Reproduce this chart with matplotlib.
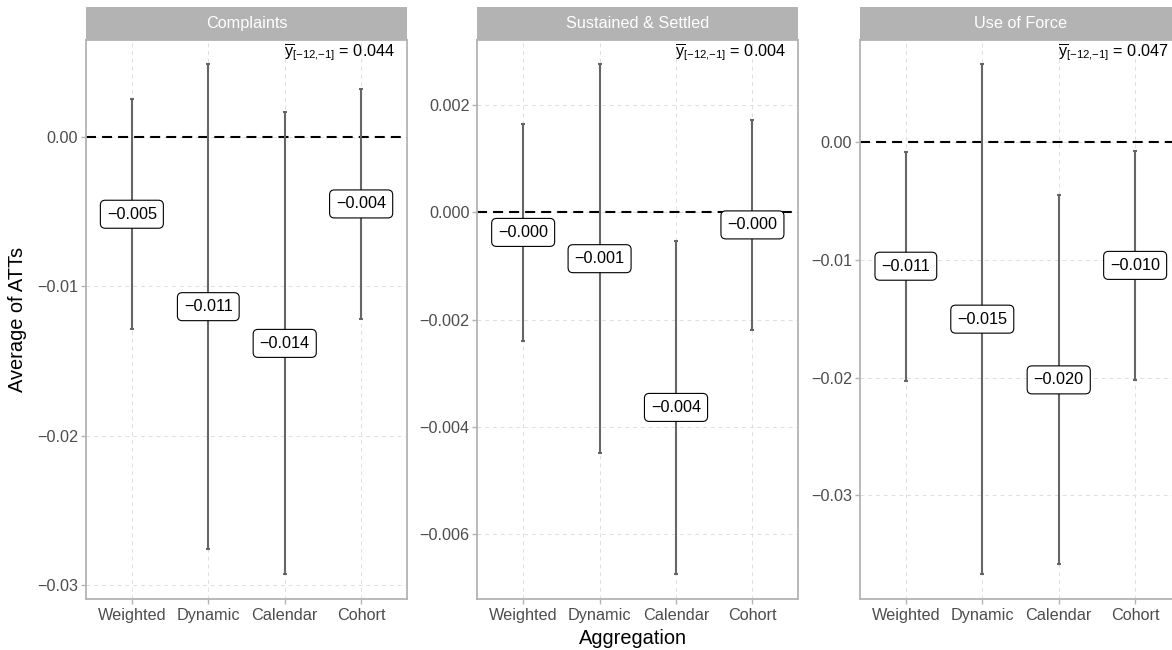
import matplotlib
matplotlib.use("Agg")
import matplotlib.pyplot as plt
from matplotlib.patches import Rectangle
from matplotlib.ticker import FixedLocator, FuncFormatter

plt.rcParams['font.family'] = ['Liberation Sans', 'DejaVu Sans']
plt.rcParams['mathtext.fontset'] = 'custom'
plt.rcParams['mathtext.rm'] = 'Liberation Sans'
plt.rcParams['mathtext.it'] = 'Liberation Sans:italic'
plt.rcParams['axes.unicode_minus'] = True

# ---- data ----
categories = ["Weighted", "Dynamic", "Calendar", "Cohort"]
panels = ["Complaints", "Sustained & Settled", "Use of Force"]
pre_means = [0.044, 0.004, 0.047]

complaints_est = [-0.00517, -0.01136, -0.01382, -0.00448]
complaints_lo = [-0.01286, -0.02759, -0.02929, -0.01219]
complaints_hi = [0.00252, 0.00487, 0.00165, 0.00324]

sustained_est = [-0.000375, -0.000865, -0.00364, -0.000235]
sustained_lo = [-0.00240, -0.00449, -0.00675, -0.00219]
sustained_hi = [0.00165, 0.00276, -0.000535, 0.00172]

force_est = [-0.01056, -0.01505, -0.02020, -0.01049]
force_lo = [-0.02027, -0.03669, -0.03584, -0.02021]
force_hi = [-0.00085, 0.00659, -0.00455, -0.00076]

ests = [complaints_est, sustained_est, force_est]
los = [complaints_lo, sustained_lo, force_lo]
his = [complaints_hi, sustained_hi, force_hi]

y_ticks = [[0.0, -0.01, -0.02, -0.03],
           [0.002, 0.0, -0.002, -0.004, -0.006],
           [0.0, -0.01, -0.02, -0.03]]
y_fmt = ["{:.2f}", "{:.3f}", "{:.2f}"]
y_lims = [(-0.03096, 0.0065), (-0.00722, 0.003215), (-0.03881, 0.008626)]

# ---- layout ----
W, H = 1172, 650
fig = plt.figure(figsize=(W / 100, H / 100), dpi=100)
top_px, bot_px = 40, 599.3
lefts_px = [86, 477.3, 860]
pw = 321

grey70 = '#B3B3B3'
tick_col = '#4D4D4D'

def fmt_minus(s):
    return s.replace('-', '\u2212')

for i in range(3):
    ax = fig.add_axes([lefts_px[i] / W, 1 - bot_px / H, pw / W, (bot_px - top_px) / H])
    x = list(range(1, len(categories) + 1))
    ax.set_xlim(0.4, 4.6)
    ax.set_ylim(*y_lims[i])

    ax.yaxis.set_major_locator(FixedLocator(y_ticks[i]))
    f = y_fmt[i]
    ax.yaxis.set_major_formatter(FuncFormatter(lambda v, p, f=f: fmt_minus(f.format(v + 0.0))))
    ax.set_xticks(x)
    ax.set_xticklabels(categories)

    for s in ax.spines.values():
        s.set_color(grey70)
        s.set_linewidth(1.3)
    ax.tick_params(axis='both', colors=grey70, labelcolor=tick_col, labelsize=11.7,
                   length=3.5, width=1.0)
    ax.tick_params(axis='y', pad=2)
    ax.tick_params(axis='x', pad=3)

    ax.grid(True, which='major', color='#DEDEDE', linestyle=(0, (4, 4)), linewidth=0.7)
    ax.set_axisbelow(True)

    ax.axhline(0, color='black', linewidth=1.5, linestyle=(0, (4.8, 2.9)), zorder=2)

    e = ests[i]
    yerr = [[e[k] - los[i][k] for k in range(4)], [his[i][k] - e[k] for k in range(4)]]
    ax.errorbar(x, e, yerr=yerr, fmt='none', ecolor='#666666', elinewidth=1.5,
                capsize=1.5, capthick=1.5, zorder=3)

    for k in range(4):
        ax.text(x[k], e[k], fmt_minus("{:.3f}".format(e[k])), ha='center', va='center',
                fontsize=11.7, color='black', zorder=5,
                bbox=dict(boxstyle='round,pad=0.4,rounding_size=0.3', fc='white',
                          ec='black', lw=0.8))

    ax.text(1 - 12 / pw, 1 - 12 / (bot_px - top_px),
            r"$\overline{\mathrm{y}}_{[{-}12{,}{-}1]}$" + " = {:.3f}".format(pre_means[i]),
            transform=ax.transAxes, ha='right', va='center', fontsize=11.7, color='black')

    # strip
    sh = 33 / (bot_px - top_px)
    ax.add_patch(Rectangle((0, 1), 1, sh, transform=ax.transAxes, facecolor=grey70,
                           edgecolor='none', clip_on=False, zorder=1))
    ax.text(0.5, 1 + sh / 2, panels[i], transform=ax.transAxes, ha='center', va='center',
            color='white', fontsize=11.7)

fig.text(18 / W, 1 - 319.5 / H, "Average of ATTs", rotation=90, ha='center', va='center',
         fontsize=14.4, color='black')
fig.text(633 / W, 1 - 638 / H, "Aggregation", ha='center', va='center',
         fontsize=14.4, color='black')

fig.savefig("out.png", dpi=100, facecolor='white')
